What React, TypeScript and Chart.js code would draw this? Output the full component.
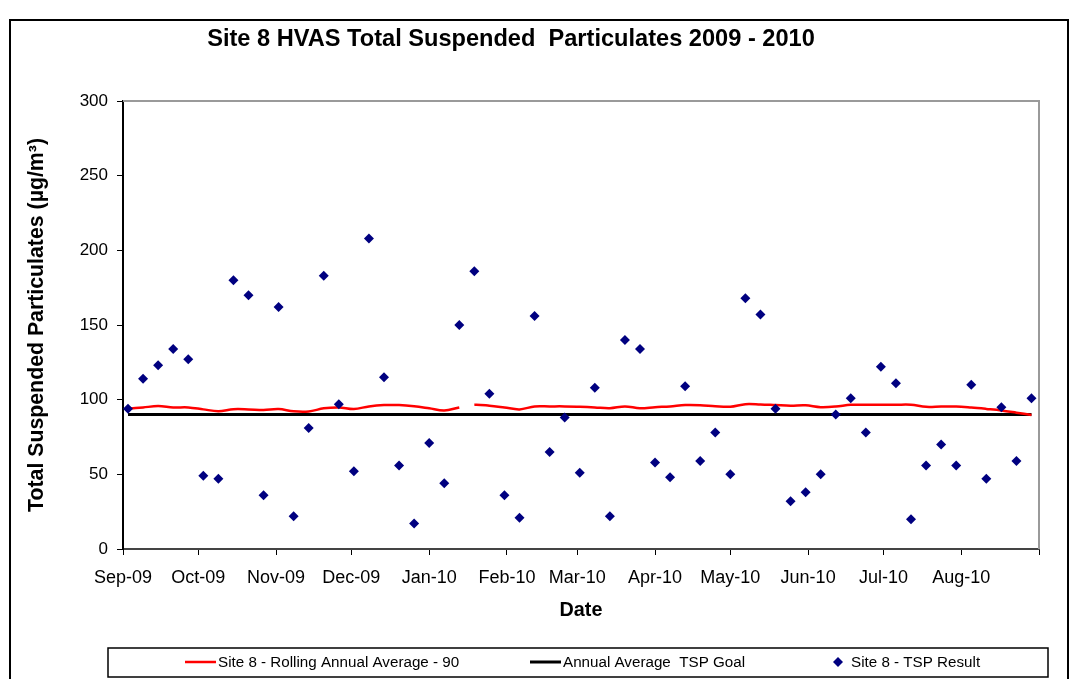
import React, { useEffect, useRef } from "react";
import { Chart, registerables } from "chart.js";

Chart.register(...registerables);

// ---------------- data ----------------
const chartTitle = "Site 8 HVAS Total Suspended  Particulates 2009 - 2010";
const yAxisTitle = "Total Suspended Particulates (µg/m³)";
const xAxisTitle = "Date";
const rollingLabel = "Site 8 - Rolling Annual Average - 90";
const goalLabel = "Annual Average  TSP Goal";
const resultLabel = "Site 8 - TSP Result";

const sampleDates = [
  "2009-09-03", "2009-09-09", "2009-09-15", "2009-09-21", "2009-09-27",
  "2009-10-03", "2009-10-09", "2009-10-15", "2009-10-21", "2009-10-27",
  "2009-11-02", "2009-11-08", "2009-11-14", "2009-11-20", "2009-11-26",
  "2009-12-02", "2009-12-08", "2009-12-14", "2009-12-20", "2009-12-26",
  "2010-01-01", "2010-01-07", "2010-01-13", "2010-01-19", "2010-01-25", "2010-01-31",
  "2010-02-06", "2010-02-12", "2010-02-18", "2010-02-24",
  "2010-03-02", "2010-03-08", "2010-03-14", "2010-03-20", "2010-03-26",
  "2010-04-01", "2010-04-07", "2010-04-13", "2010-04-19", "2010-04-25",
  "2010-05-01", "2010-05-07", "2010-05-13", "2010-05-19", "2010-05-25", "2010-05-31",
  "2010-06-06", "2010-06-12", "2010-06-18", "2010-06-24", "2010-06-30",
  "2010-07-06", "2010-07-12", "2010-07-18", "2010-07-24", "2010-07-30",
  "2010-08-05", "2010-08-11", "2010-08-17", "2010-08-23", "2010-08-29",
];

const tspValues = [
  94, 114, 123, 134, 127, 49, 47, 180, 170, 36,
  162, 22, 81, 183, 97, 52, 208, 115, 56, 17,
  71, 44, 150, 186, 104, 36, 21, 156, 65, 88,
  51, 108, 22, 140, 134, 58, 48, 109, 59, 78,
  50, 168, 157, 94, 32, 38, 50, 90, 101, 78,
  122, 111, 20, 56, 70, 56, 110, 47, 95, 59, 101,
];

const rollingAvg = [
  93.9, 94.8, 95.7, 94.8, 94.8, 93.5, 92.3, 93.6, 93.5, 93.1,
  93.7, 92.2, 92.1, 94.2, 94.8, 93.7, 95.5, 96.4, 96.4, 95.6,
  94.2, 92.7, 94.8, 96.6, 96.0, 94.8, 93.5, 95.5, 95.5, 95.5,
  95.2, 94.8, 94.3, 95.5, 94.3, 95.0, 95.5, 96.4, 96.3, 95.6,
  95.3, 97.0, 96.8, 96.4, 96.0, 96.2, 95.0, 95.4, 96.6, 96.6,
  96.6, 96.6, 96.6, 95.2, 95.4, 95.4, 94.7, 93.8, 92.8, 91.3, 89.7,
];
const rollingBreakAfter = "2010-01-13";

const goalDates = ["2009-09-03", "2010-08-29"];
const goalValues = [90, 90];

const monthTickDates = [
  "2009-09-01", "2009-10-01", "2009-11-01", "2009-12-01", "2010-01-01", "2010-02-01",
  "2010-03-01", "2010-04-01", "2010-05-01", "2010-06-01", "2010-07-01", "2010-08-01", "2010-09-01",
];
const monthLabels = [
  "Sep-09", "Oct-09", "Nov-09", "Dec-09", "Jan-10", "Feb-10",
  "Mar-10", "Apr-10", "May-10", "Jun-10", "Jul-10", "Aug-10", "",
];

const yMin = 0;
const yMax = 300;
const yStep = 50;

// ---------------- helpers ----------------
const originDate = monthTickDates[0];
function dayOffset(s: string): number {
  const [y, m, d] = s.split("-").map(Number);
  const [oy, om, od] = originDate.split("-").map(Number);
  return (Date.UTC(y, m - 1, d) - Date.UTC(oy, om - 1, od)) / 86400000;
}

const FONT = '"Liberation Sans", Arial, sans-serif';

const plotFramePlugin = {
  id: "plotFrame",
  beforeDatasetsDraw(chart: any) {
    const { ctx, chartArea } = chart;
    ctx.save();
    ctx.strokeStyle = "#9a9a9a";
    ctx.lineWidth = 2;
    ctx.beginPath();
    ctx.moveTo(chartArea.left, chartArea.top);
    ctx.lineTo(chartArea.right, chartArea.top);
    ctx.lineTo(chartArea.right, chartArea.bottom);
    ctx.stroke();
    ctx.restore();
  },
};

const boxedLegendPlugin = {
  id: "boxedLegend",
  afterDraw(chart: any, _args: any, opts: any) {
    const { ctx } = chart;
    const [bx, by, bw, bh] = opts.box;
    ctx.save();
    ctx.strokeStyle = "#000";
    ctx.lineWidth = 1.5;
    ctx.strokeRect(bx, by, bw, bh);
    ctx.font = `${opts.fontSize}px ${FONT}`;
    ctx.textBaseline = "middle";
    ctx.textAlign = "left";
    const cy = opts.centerY;
    chart.data.datasets.forEach((ds: any, i: number) => {
      const x = opts.items[i];
      let textX = x;
      if (ds.type === "scatter") {
        const r = ds.pointRadius;
        const cx = x + r;
        ctx.fillStyle = ds.backgroundColor;
        ctx.beginPath();
        ctx.moveTo(cx, cy - r);
        ctx.lineTo(cx + r, cy);
        ctx.lineTo(cx, cy + r);
        ctx.lineTo(cx - r, cy);
        ctx.closePath();
        ctx.fill();
        textX = x + 2 * r + opts.diamondGap;
      } else {
        ctx.strokeStyle = ds.borderColor;
        ctx.lineWidth = ds.borderWidth;
        ctx.beginPath();
        ctx.moveTo(x, cy);
        ctx.lineTo(x + opts.lineLength, cy);
        ctx.stroke();
        textX = x + opts.lineLength + opts.lineGap;
      }
      ctx.fillStyle = "#000";
      ctx.fillText(ds.label, textX, cy + 1);
    });
    ctx.restore();
  },
};

export default function App() {
  const canvasRef = useRef<HTMLCanvasElement | null>(null);

  useEffect(() => {
    const canvas = canvasRef.current;
    if (!canvas) return;
    const breakIndex = sampleDates.indexOf(rollingBreakAfter);

    const chart = new Chart(canvas, {
      type: "line",
      data: {
        datasets: [
          {
            type: "line",
            label: rollingLabel,
            data: sampleDates.map((d, i) => ({ x: dayOffset(d), y: rollingAvg[i] })),
            borderColor: "#ff0000",
            backgroundColor: "#ff0000",
            borderWidth: 2.5,
            pointRadius: 0,
            tension: 0.35,
            order: 1,
            segment: {
              borderColor: (c: any) => (c.p0DataIndex === breakIndex ? "rgba(0,0,0,0)" : undefined),
            },
          } as any,
          {
            type: "line",
            label: goalLabel,
            data: goalDates.map((d, i) => ({ x: dayOffset(d), y: goalValues[i] })),
            borderColor: "#000000",
            backgroundColor: "#000000",
            borderWidth: 3,
            pointRadius: 0,
            order: 2,
          },
          {
            type: "scatter",
            label: resultLabel,
            data: sampleDates.map((d, i) => ({ x: dayOffset(d), y: tspValues[i] })),
            pointStyle: "rectRot",
            pointRadius: 5,
            pointHoverRadius: 5,
            backgroundColor: "#000080",
            borderColor: "#000080",
            borderWidth: 0,
            order: 0,
          } as any,
        ],
      },
      options: {
        responsive: false,
        animation: false,
        devicePixelRatio: 1,
        layout: { padding: { left: -17, right: 35, top: 0, bottom: 0 } },
        plugins: {
          legend: { display: false },
          tooltip: { enabled: false },
          title: {
            display: true,
            text: chartTitle,
            color: "#000",
            font: { family: FONT, size: 23.6, weight: "bold" },
            padding: { top: 25, bottom: 47.7 },
          },
          boxedLegend: {
            box: [108, 648, 940, 29],
            items: [185, 530, 833],
            centerY: 662,
            lineLength: 31,
            lineGap: 2,
            diamondGap: 8,
            fontSize: 15.2,
          },
        } as any,
        scales: {
          x: {
            type: "linear",
            min: dayOffset(monthTickDates[0]),
            max: dayOffset(monthTickDates[monthTickDates.length - 1]),
            afterBuildTicks: (s: any) => {
              s.ticks = monthTickDates.map((d) => ({ value: dayOffset(d) }));
            },
            afterFit: (s: any) => {
              s.height = 130;
            },
            ticks: {
              autoSkip: false,
              maxRotation: 0,
              padding: 12,
              color: "#000",
              font: { family: FONT, size: 18 },
              callback: (_v: any, i: number) => monthLabels[i],
            },
            grid: { drawOnChartArea: false, drawTicks: true, tickLength: 6, color: "#000", lineWidth: 1 },
            border: { display: true, color: "#444", width: 2 },
            title: {
              display: true,
              text: xAxisTitle,
              color: "#000",
              font: { family: FONT, size: 19.8, weight: "bold" },
              padding: { top: 0, bottom: 57 },
            },
          },
          y: {
            type: "linear",
            min: yMin,
            max: yMax,
            afterFit: (s: any) => {
              s.width = 140;
            },
            ticks: {
              stepSize: yStep,
              padding: 9,
              color: "#000",
              font: { family: FONT, size: 17 },
            },
            grid: { drawOnChartArea: false, drawTicks: true, tickLength: 6, color: "#000", lineWidth: 1 },
            border: { display: true, color: "#000", width: 2 },
            title: {
              display: true,
              text: yAxisTitle,
              color: "#000",
              font: { family: FONT, size: 21.3, weight: "bold" },
              padding: { top: 41.2, bottom: 0 },
            },
          },
        },
      } as any,
      plugins: [plotFramePlugin, boxedLegendPlugin],
    });

    return () => chart.destroy();
  }, []);

  return (
    <div style={{ position: "absolute", left: 0, top: 0, width: 1074, height: 679, overflow: "hidden", background: "#fff" }}>
      <div
        style={{
          position: "absolute",
          left: 9,
          top: 19,
          width: 1060,
          height: 700,
          border: "2px solid #000",
          boxSizing: "border-box",
        }}
      />
      <canvas ref={canvasRef} width={1074} height={679} style={{ position: "absolute", left: 0, top: 0, display: "block" }} />
    </div>
  );
}
